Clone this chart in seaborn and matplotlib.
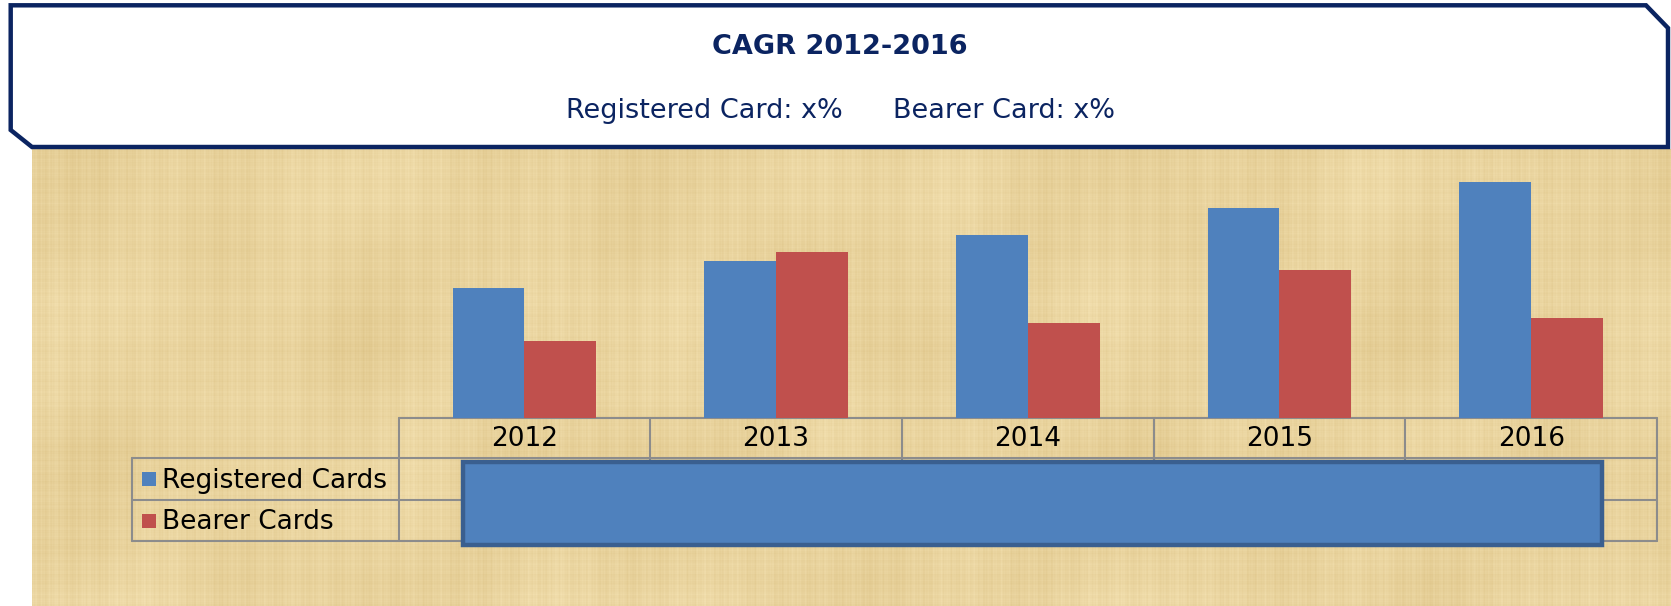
import numpy as np
import pandas as pd
import matplotlib
matplotlib.use("Agg")
import matplotlib.pyplot as plt
import seaborn as sns
from matplotlib.patches import Polygon, Rectangle

# data
years = ["2012", "2013", "2014", "2015", "2016"]
registered = [130, 157, 183, 210, 236]
bearer = [77, 166, 95, 148, 100]
series = ["Registered Cards", "Bearer Cards"]
colors = ["#4F81BD", "#C0504D"]
title = "CAGR 2012-2016"
subtitle = ["Registered Card: x%", "Bearer Card: x%"]

df = pd.DataFrame({
    "year": years * 2,
    "value": registered + bearer,
    "series": [series[0]] * len(years) + [series[1]] * len(years),
})

sns.set_theme(style="white")
plt.rcParams["font.family"] = ["DejaVu Sans"]

W, H = 1671, 606
fig = plt.figure(figsize=(W / 100, H / 100), dpi=100)
fig.patch.set_facecolor("white")

# background layer in pixel coords
bg = fig.add_axes([0, 0, 1, 1])
bg.set_xlim(0, W)
bg.set_ylim(H, 0)
bg.axis("off")

# papyrus-like texture (deterministic)
xs = np.arange(32, W).astype(float)
ys = np.arange(149, H).astype(float)
col = (0.5 * np.sin(xs * 0.93 + 0.3) + 0.4 * np.sin(xs * 2.31 + 1.1)
       + 0.45 * np.sin(xs * 0.213 + 2.0) + 0.3 * np.sin(xs * 0.047 + 0.5)
       + 0.3 * np.sin(xs * 1.57 + 0.9))
row = (0.45 * np.sin(ys * 0.87 + 0.7) + 0.35 * np.sin(ys * 2.7 + 0.2)
       + 0.4 * np.sin(ys * 0.19 + 1.3) + 0.3 * np.sin(ys * 0.061 + 2.2)
       + 0.25 * np.sin(ys * 1.43 + 0.4))
X, Y = np.meshgrid(xs, ys)
blot = np.sin(X * 0.012 + 0.4) * np.sin(Y * 0.021 + 1.0) + 0.5 * np.sin(X * 0.031 + Y * 0.017)
v = 0.55 * col[None, :] + 0.4 * row[:, None] + 0.5 * blot
v = v / np.abs(v).max()
base = np.array([0.915, 0.830, 0.620])
amp = np.array([0.045, 0.06, 0.085])
img = np.clip(base[None, None, :] + v[..., None] * amp[None, None, :], 0, 1)
bg.imshow(img, extent=(32, W, H, 149), aspect="auto", interpolation="nearest", zorder=0)

# title box with chamfered corners
navy = "#0B2461"
box = Polygon([(10.7, 5.3), (1646, 5.3), (1668, 28), (1668, 147), (32, 147), (10.7, 130)],
              closed=True, facecolor="white", edgecolor=navy, lw=3.2, zorder=2)
bg.add_patch(box)
bg.text(840, 47, title, ha="center", va="center", fontsize=19.5, fontweight="bold", color=navy, zorder=3)
bg.text(704, 111, subtitle[0], ha="center", va="center", fontsize=19.5, color=navy, zorder=3)
bg.text(1004, 111, subtitle[1], ha="center", va="center", fontsize=19.5, color=navy, zorder=3)

# bars
top_px, base_px = 150, 417.8
left_px, right_px = 398.6, 1657
ax = fig.add_axes([left_px / W, (H - base_px) / H, (right_px - left_px) / W, (base_px - top_px) / H])
ax.patch.set_alpha(0)
sns.barplot(data=df, x="year", y="value", hue="series", palette=colors, width=0.57, gap=0,
            saturation=1, linewidth=0, ax=ax, legend=False)
ax.set_xlim(-0.5, len(years) - 0.5)
ax.set_ylim(0, base_px - top_px)
ax.axis("off")

# data table under the axis
grid = "#8C8C8C"
col_w = (right_px - left_px) / len(years)
leg_left = 132
rows_y = [417.8, 458.3, 499.8, 541.4]
bg.plot([left_px, right_px], [rows_y[0], rows_y[0]], color=grid, lw=1.5, zorder=3)
for yy in rows_y[1:]:
    bg.plot([leg_left, right_px], [yy, yy], color=grid, lw=1.5, zorder=3)
for i in range(len(years) + 1):
    xx = left_px + i * col_w
    bg.plot([xx, xx], [rows_y[0], rows_y[-1]], color=grid, lw=1.5, zorder=3)
bg.plot([leg_left, leg_left], [rows_y[1], rows_y[-1]], color=grid, lw=1.5, zorder=3)

for i, yr in enumerate(years):
    bg.text(left_px + (i + 0.5) * col_w, (rows_y[0] + rows_y[1]) / 2 + 1, yr,
            ha="center", va="center", fontsize=19, color="black", zorder=4)

for j, (name, c) in enumerate(zip(series, colors)):
    cy = (rows_y[j + 1] + rows_y[j + 2]) / 2
    bg.add_patch(Rectangle((142, cy - 7), 14, 14, facecolor=c, edgecolor="none", zorder=4))
    bg.text(162, cy + 1.5, name, ha="left", va="center", fontsize=19, color="black", zorder=4)

# blue block covering the table values
bg.add_patch(Rectangle((462.5, 461.5), 1601.8 - 462.5, 544.6 - 461.5,
                       facecolor="#4F81BD", edgecolor="#3A5F8F", lw=3.2, zorder=5))

fig.savefig("out.png", dpi=100)
